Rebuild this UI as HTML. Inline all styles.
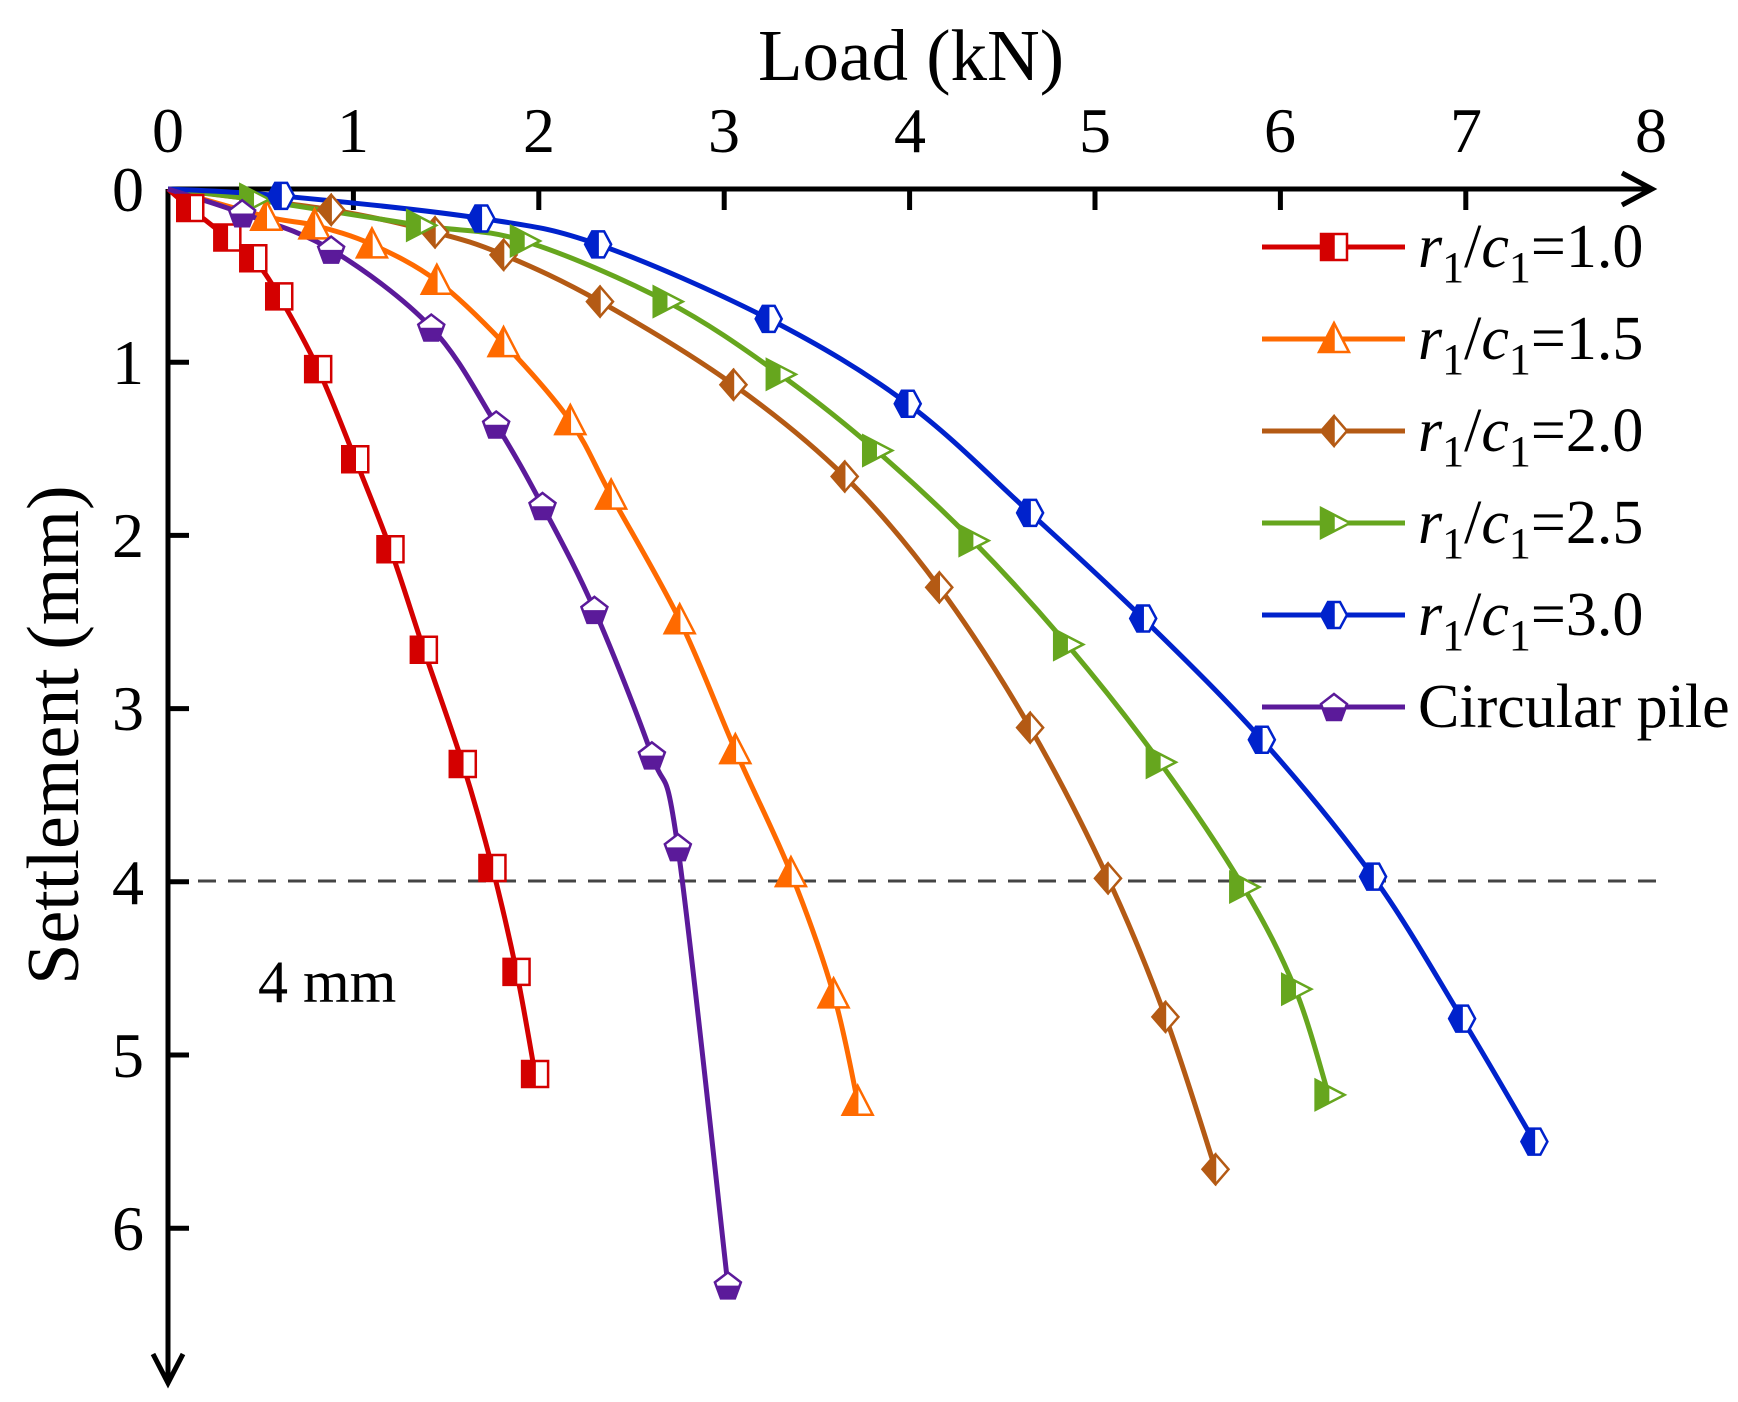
<!DOCTYPE html>
<html><head><meta charset="utf-8"><style>
html,body{margin:0;padding:0;background:#fff;}
svg{display:block;font-family:"Liberation Serif",serif;}
</style></head><body>
<svg id="s" width="1738" height="1402" viewBox="0 0 1738 1402" xmlns="http://www.w3.org/2000/svg">
<rect width="1738" height="1402" fill="#fff"/>
<text x="911" y="80" font-size="73" text-anchor="middle">Load (kN)</text>
<g font-size="64" text-anchor="middle">
<text x="168" y="152">0</text><text x="353" y="152">1</text><text x="539" y="152">2</text><text x="724" y="152">3</text><text x="910" y="152">4</text><text x="1095" y="152">5</text><text x="1280" y="152">6</text><text x="1466" y="152">7</text><text x="1651" y="152">8</text>
</g>
<g font-size="64" text-anchor="end">
<text x="144" y="211">0</text><text x="144" y="384">1</text><text x="144" y="557">2</text><text x="144" y="730">3</text><text x="144" y="904">4</text><text x="144" y="1077">5</text><text x="144" y="1250">6</text>
</g>
<text transform="translate(78,735) rotate(-90)" font-size="74" text-anchor="middle">Settlement (mm)</text>
<text x="258" y="1002" font-size="60">4 mm</text>
<line x1="168" y1="881" x2="1660" y2="881" stroke="#444" stroke-width="3" stroke-dasharray="18,12"/>
<g stroke="#000" stroke-width="5" fill="none">
<line x1="168" y1="189" x2="1651" y2="189"/>
<polyline points="1622,173 1652,189 1622,205"/>
<line x1="168" y1="189" x2="168" y2="1382"/>
<polyline points="153,1354 168,1383 183,1354"/>
</g>
<g stroke="#000" stroke-width="5" id="ticks"></g>
<g id="curves"></g>
<g id="legend" font-size="62"></g>
</svg>
<script>
const NS="http://www.w3.org/2000/svg";
const X=l=>168+185.4*l, Y=s=>189+173.2*s;
function el(t,a,p){const e=document.createElementNS(NS,t);for(const k in a)e.setAttribute(k,a[k]);p.appendChild(e);return e;}
const tk=document.getElementById('ticks');
for(let i=1;i<=7;i++)el('line',{x1:X(i),y1:189,x2:X(i),y2:210},tk);
for(let i=1;i<=6;i++)el('line',{x1:168,y1:Y(i),x2:189,y2:Y(i)},tk);
const series=[
 {c:'#d40000',m:'sq',d:[[0,0],[0.12,0.11],[0.32,0.28],[0.46,0.40],[0.6,0.62],[0.81,1.04],[1.01,1.56],[1.2,2.08],[1.38,2.66],[1.59,3.32],[1.75,3.92],[1.88,4.52],[1.98,5.11]]},
 {c:'#ff6a00',m:'tri',d:[[0,0],[0.53,0.16],[0.79,0.21],[1.10,0.32],[1.45,0.53],[1.81,0.89],[2.17,1.34],[2.39,1.77],[2.76,2.49],[3.06,3.24],[3.36,3.95],[3.59,4.65],[3.72,5.27]]},
 {c:'#b45a14',m:'dia',d:[[0,0],[0.88,0.12],[1.44,0.25],[1.81,0.38],[2.33,0.65],[3.05,1.13],[3.65,1.66],[4.16,2.3],[4.65,3.11],[5.07,3.98],[5.38,4.78],[5.65,5.66]]},
 {c:'#66a61e',m:'rt',d:[[0,0],[0.46,0.06],[1.36,0.21],[1.92,0.30],[2.69,0.65],[3.30,1.07],[3.82,1.51],[4.34,2.03],[4.85,2.63],[5.35,3.31],[5.80,4.03],[6.08,4.62],[6.26,5.23]]},
 {c:'#0022cc',m:'hex',d:[[0,0],[0.61,0.04],[1.69,0.17],[2.32,0.32],[3.24,0.75],[3.99,1.24],[4.65,1.87],[5.26,2.48],[5.90,3.18],[6.50,3.97],[6.98,4.79],[7.37,5.5]]},
 {c:'#5b1a9a',m:'pent',d:[[0,0],[0.40,0.14],[0.88,0.35],[1.42,0.80],[1.77,1.36],[2.02,1.83],[2.30,2.43],[2.61,3.27],[2.75,3.80],[3.02,6.33]]}
];
function marker(m,x,y,c,g){
 const r=13;let full,half;
 if(m=='sq'){full=[[x-r,y-r],[x+r,y-r],[x+r,y+r],[x-r,y+r]];half=[[x-r,y-r],[x,y-r],[x,y+r],[x-r,y+r]];}
 if(m=='tri'){full=[[x,y-r-3],[x+r+2,y+r],[x-r-2,y+r]];half=[[x,y-r-3],[x,y+r],[x-r-2,y+r]];}
 if(m=='dia'){full=[[x,y-r-2],[x+r,y],[x,y+r+2],[x-r,y]];half=[[x,y-r-2],[x,y+r+2],[x-r,y]];}
 if(m=='rt'){full=[[x-r,y-r-2],[x+r+3,y],[x-r,y+r+2]];half=[[x-r,y-r-2],[x,y-r*0.55],[x,y+r*0.55],[x-r,y+r+2]];}
 if(m=='hex'){full=[[x-6,y-r],[x+6,y-r],[x+r,y],[x+6,y+r],[x-6,y+r],[x-r,y]];half=[[x-6,y-r],[x,y-r],[x,y+r],[x-6,y+r],[x-r,y]];}
 if(m=='pent'){full=[[x,y-r],[x+r,y-3],[x+7,y+r],[x-7,y+r],[x-r,y-3]];half=[[x-r+2,y+1],[x+r-2,y+1],[x+7,y+r],[x-7,y+r]];}
 const P=a=>a.map(p=>p.join(',')).join(' ');
 el('polygon',{points:P(full),fill:'#fff',stroke:c,'stroke-width':2.5},g);
 el('polygon',{points:P(half),fill:c,stroke:c,'stroke-width':1.5},g);
}
function path(pts){
 let d='M'+pts[0].join(',');
 for(let i=0;i<pts.length-1;i++){
  const p0=pts[Math.max(i-1,0)],p1=pts[i],p2=pts[i+1],p3=pts[Math.min(i+2,pts.length-1)];
  const c1=[p1[0]+(p2[0]-p0[0])/6,p1[1]+(p2[1]-p0[1])/6],c2=[p2[0]-(p3[0]-p1[0])/6,p2[1]-(p3[1]-p1[1])/6];
  d+=' C'+c1.join(',')+' '+c2.join(',')+' '+p2.join(',');
 }
 return d;
}
const cg=document.getElementById('curves');
series.forEach(s=>{const pts=s.d.map(p=>[X(p[0]),Y(p[1])]);el('path',{d:path(pts),fill:'none',stroke:s.c,'stroke-width':5},cg);});
series.forEach(s=>{s.d.slice(1).forEach(p=>marker(s.m,X(p[0]),Y(p[1]),s.c,cg));});
const lg=document.getElementById('legend');
const labs=['1.0','1.5','2.0','2.5','3.0'];
series.forEach((s,i)=>{const y=247+92*i;
 el('line',{x1:1262,y1:y,x2:1405,y2:y,stroke:s.c,'stroke-width':5},lg);
 marker(s.m,1334,y,s.c,lg);
 const t=el('text',{x:1418,y:y+20},lg);
 if(i<5){t.innerHTML='<tspan font-style="italic">r</tspan><tspan font-size="44" dy="15">1</tspan><tspan dy="-15">/</tspan><tspan font-style="italic">c</tspan><tspan font-size="44" dy="15">1</tspan><tspan dy="-15">='+labs[i]+'</tspan>';}
 else t.textContent='Circular pile';
});
</script>
</body></html>
